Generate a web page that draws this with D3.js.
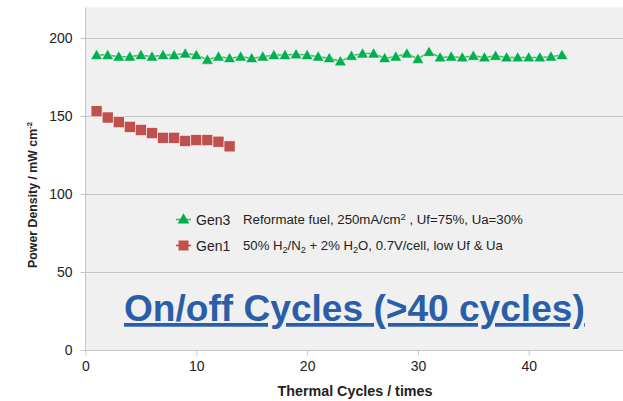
<!DOCTYPE html>
<html><head><meta charset="utf-8">
<script src="https://cdn.jsdelivr.net/npm/d3@7"></script>
<style>body{margin:0;background:#fff}svg{display:block}</style>
</head><body>
<script>
const cycles3 = d3.range(1, 44);
const gen3 = [189,189,188,188,189,188,189,189,190,189,186,188,187,188,187,188,189,189,189.5,189,188,187,185,188.5,190,190,187,188,190,186.5,191,187.5,188,187.5,188.5,187.5,188.5,187.5,187.5,187.5,187.5,188,189];
const cycles1 = d3.range(1, 14);
const gen1 = [153,149,146,143,141,139,136,136,134,134.5,134.5,133.5,130.5];
const xTicks = [0,10,20,30,40];
const yTicks = [0,50,100,150,200];

const W = 623, H = 401;
const svg = d3.select("body").append("svg").attr("width", W).attr("height", H);
const x = d3.scaleLinear().domain([0, 48.55]).range([85.5, 623.5]);
const y = d3.scaleLinear().domain([0, 219.5]).range([350, 7.5]);

svg.append("rect").attr("x", 85.5).attr("y", 7.5).attr("width", W - 85.5).attr("height", 342.5).attr("fill", "#f0f0f0");

function fitText(t, target, base) {
  const w = t.node().getComputedTextLength();
  const s = target / w;
  t.attr("font-size", base * s);
  t.selectAll("tspan.sub").attr("font-size", 8 * s);
}

// gridlines
svg.append("g").selectAll("line").data(yTicks.filter(d => d > 0)).join("line")
  .attr("x1", 81).attr("x2", W).attr("y1", d => Math.round(y(d)) + 0.5).attr("y2", d => Math.round(y(d)) + 0.5)
  .attr("stroke", "#c6c6c6").attr("stroke-width", 1.2);

// axes
const fontAxis = "Liberation Sans, Arial, sans-serif";
const yAxis = svg.append("g").attr("transform", "translate(85.5,0)")
  .call(d3.axisLeft(y).tickValues(yTicks).tickSize(5).tickPadding(8));
yAxis.select(".domain").attr("stroke", "#c6c6c6").attr("d", "M-5,350.5H0V7.5");
yAxis.selectAll(".tick line").attr("stroke", "#c6c6c6");
yAxis.selectAll("text").attr("font-family", fontAxis).attr("font-size", 14).attr("fill", "#222");

const xAxis = svg.append("g").attr("transform", "translate(0,350.5)")
  .call(d3.axisBottom(x).tickValues(xTicks).tickSize(5).tickPadding(6));
xAxis.select(".domain").attr("stroke", "#c6c6c6").attr("d", "M85.5,0H623");
xAxis.selectAll(".tick line").attr("stroke", "#c6c6c6");
xAxis.selectAll("text").attr("font-family", fontAxis).attr("font-size", 14).attr("fill", "#222");

// axis titles
const xt = svg.append("text").attr("x", 355).attr("y", 396)
  .attr("text-anchor", "middle").attr("font-family", fontAxis).attr("font-size", 12.5).attr("font-weight", "bold").attr("fill", "#222")
  .text("Thermal Cycles / times");
fitText(xt, 155, 12.5);
const yt = svg.append("text").attr("transform", "translate(37,195) rotate(-90)")
  .attr("text-anchor", "middle").attr("font-family", fontAxis).attr("font-size", 13).attr("font-weight", "bold").attr("fill", "#222");
yt.append("tspan").text("Power Density / mW cm");
yt.append("tspan").attr("class", "sub").attr("dy", -5).attr("font-size", 8).text("-2");
fitText(yt, 146, 13);

// series
const line = d3.line().x(d => x(d[0])).y(d => y(d[1]));
const d3pts = cycles3.map((c, i) => [c, gen3[i]]);
const d1pts = cycles1.map((c, i) => [c, gen1[i]]);
svg.append("path").attr("d", line(d3pts)).attr("fill", "none").attr("stroke", "#3cb95a").attr("stroke-width", 1.5);
svg.append("path").attr("d", line(d1pts)).attr("fill", "none").attr("stroke", "#e0302a").attr("stroke-width", 1.5);
const tri = d3.symbol().type(d3.symbolTriangle).size(60);
svg.append("g").selectAll("path").data(d3pts).join("path")
  .attr("d", tri).attr("transform", d => `translate(${x(d[0])},${y(d[1]) + 1})`)
  .attr("fill", "#00b050").attr("stroke", "#fff").attr("stroke-width", 0.5);
svg.append("g").selectAll("rect").data(d1pts).join("rect")
  .attr("x", d => x(d[0]) - 5.5).attr("y", d => y(d[1]) - 5.5).attr("width", 11).attr("height", 11)
  .attr("fill", "#c0504d").attr("stroke", "#fff").attr("stroke-width", 0.5);

// legend
const legFont = "Liberation Sans, Arial, sans-serif";
const lg = svg.append("g");
lg.append("line").attr("x1", 176).attr("x2", 191).attr("y1", 219.5).attr("y2", 219.5).attr("stroke", "#3cb95a").attr("stroke-width", 1.5);
lg.append("path").attr("d", tri).attr("transform", "translate(183.5,220)").attr("fill", "#00b050");
lg.append("line").attr("x1", 176).attr("x2", 191).attr("y1", 245.5).attr("y2", 245.5).attr("stroke", "#e0302a").attr("stroke-width", 1.5);
lg.append("rect").attr("x", 178.5).attr("y", 240.5).attr("width", 10).attr("height", 10).attr("fill", "#c0504d");
lg.append("text").attr("x", 196).attr("y", 225).attr("font-family", legFont).attr("font-size", 14).attr("fill", "#222").text("Gen3");
lg.append("text").attr("x", 196).attr("y", 250.5).attr("font-family", legFont).attr("font-size", 14).attr("fill", "#222").text("Gen1");

const t1 = lg.append("text").attr("x", 243).attr("y", 224).attr("font-family", legFont).attr("font-size", 11.5).attr("fill", "#222");
t1.append("tspan").text("Reformate fuel, 250mA/cm");
t1.append("tspan").attr("class", "sub").attr("dy", -4).attr("font-size", 8).text("2");
t1.append("tspan").attr("dy", 4).text(" , Uf=75%, Ua=30%");
fitText(t1, 280, 11.5);
const t2 = lg.append("text").attr("x", 243).attr("y", 249.5).attr("font-family", legFont).attr("font-size", 11.5).attr("fill", "#222");
t2.append("tspan").text("50% H");
t2.append("tspan").attr("class", "sub").attr("dy", 3).attr("font-size", 8).text("2");
t2.append("tspan").attr("dy", -3).text("/N");
t2.append("tspan").attr("class", "sub").attr("dy", 3).attr("font-size", 8).text("2");
t2.append("tspan").attr("dy", -3).text(" + 2% H");
t2.append("tspan").attr("class", "sub").attr("dy", 3).attr("font-size", 8).text("2");
t2.append("tspan").attr("dy", -3).text("O, 0.7V/cell, low Uf & Ua");
fitText(t2, 260, 11.5);

// big title
const title = svg.append("text").attr("x", 124).attr("y", 321)
  .attr("font-family", "Liberation Sans, Arial, sans-serif").attr("font-size", 37).attr("font-weight", "bold")
  .attr("fill", "#2b5ea8").attr("text-decoration", "underline")
  .text("On/off Cycles (>40 cycles)");
fitText(title, 461, 37);
</script>
</body></html>
